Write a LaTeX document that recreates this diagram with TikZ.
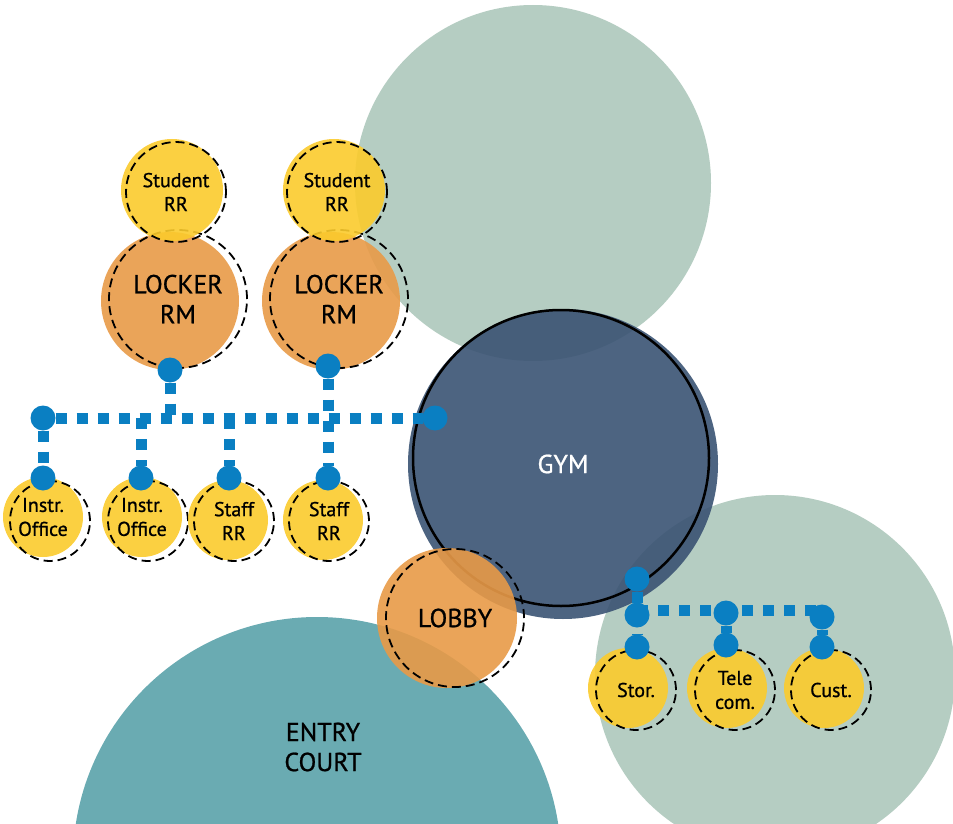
\documentclass[tikz,border=0pt]{standalone}
\usepackage{fontspec}
\setmainfont{PT Sans}[FakeBold=0.8]
\usetikzlibrary{positioning}
\definecolor{sage}{HTML}{B5CDC2}
\definecolor{teal}{HTML}{6AABB2}
\definecolor{navy}{HTML}{3A5373}
\definecolor{amber}{HTML}{E89A47}
\definecolor{sun}{HTML}{FBCB2C}
\definecolor{linkblue}{HTML}{0A7FC2}
\tikzstyle{every node}=[inner sep=0pt, outer sep=0pt, circle]
\tikzstyle{zone}=[fill=sage]
\tikzstyle{room}=[fill opacity=0.9, text opacity=1]
\tikzstyle{ring}=[draw, line width=1.8pt, dash pattern=on 9pt off 5pt, align=center]
\tikzstyle{big}=[font=\fontsize{26}{30}\selectfont]
\tikzstyle{small}=[font=\fontsize{20}{24}\selectfont]
\tikzstyle{dot}=[fill=linkblue, minimum size=25pt]
\tikzstyle{link}=[draw=linkblue, line width=11pt, dash pattern=on 11pt off 10pt]

\begin{document}
\begin{tikzpicture}[x=1pt,y=-1pt]
    \useasboundingbox (0,0) rectangle (953,824);
    \clip (0,0) rectangle (953,824);
    % outdoor zones
    \node[zone, minimum size=356pt] (north) at (533,183) {};
    \node[zone, minimum size=360pt] (east) at (775,675) {};
    \node[fill=teal, minimum size=488pt] (court) at (317,861) {};
    \node[big, rectangle, align=center] (courtlbl) at (323,747) {ENTRY\\COURT};
    % gym
    \node[room, fill=navy, minimum size=310pt, big, text=white] (gym) at (563,464) {GYM};
    \node[draw, line width=2.5pt, minimum size=296pt] (gymring) at (561,458) {};
    % lobby
    \node[room, fill=amber, minimum size=140pt] (lobby) at (447,618) {};
    \node[ring, big, minimum size=138pt] (lobbyring) at (455,618) {LOBBY};
    % locker rooms
    \node[room, fill=amber, minimum size=138pt] (locker1) at (170,301) {};
    \node[ring, big, minimum size=138pt] (locker1ring) at (178,299) {LOCKER\\RM};
    \node[room, fill=amber, minimum size=138pt] (locker2) at (331,301) {};
    \node[ring, big, minimum size=138pt] (locker2ring) at (339,299) {LOCKER\\RM};
    % student restrooms
    \node[room, fill=sun, minimum size=102pt] (student1) at (172,190) {};
    \node[ring, small, minimum size=100pt] (student1ring) at (176,192) {Student\\RR};
    \node[room, fill=sun, minimum size=102pt] (student2) at (334,190) {};
    \node[ring, small, minimum size=100pt] (student2ring) at (337,192) {Student\\RR};
    % staff side
    \node[room, fill=sun, minimum size=80pt, small, align=center] (instr1) at (43,517) {Instr.\\Office};
    \node[ring, minimum size=80pt] (instr1ring) at (50,521) {};
    \node[room, fill=sun, minimum size=80pt, small, align=center] (instr2) at (142,517) {Instr.\\Office};
    \node[ring, minimum size=80pt] (instr2ring) at (148,521) {};
    \node[room, fill=sun, minimum size=80pt] (staff1) at (228,520) {};
    \node[ring, small, minimum size=80pt] (staff1ring) at (234,521) {Staff\\RR};
    \node[room, fill=sun, minimum size=80pt] (staff2) at (323,520) {};
    \node[ring, small, minimum size=80pt] (staff2ring) at (329,521) {Staff\\RR};
    % service side
    \node[room, fill=sun, minimum size=80pt] (stor) at (628,688) {};
    \node[ring, small, minimum size=80pt] (storring) at (636,690) {Stor.};
    \node[room, fill=sun, minimum size=80pt] (tele) at (727,688) {};
    \node[ring, small, minimum size=80pt] (telering) at (735,690) {Tele\\com.};
    \node[room, fill=sun, minimum size=80pt] (cust) at (824,688) {};
    \node[ring, small, minimum size=80pt] (custring) at (831,690) {Cust.};
    % connection dots
    \node[dot] (locker1dot) at (170,370) {};
    \node[dot] (locker2dot) at (328,366) {};
    \node[dot] (westdot) at (43,418) {};
    \node[dot] (gymwest) at (435,418) {};
    \node[dot] (instr1dot) at (43,478) {};
    \node[dot] (instr2dot) at (141,478) {};
    \node[dot] (staff1dot) at (229,478) {};
    \node[dot] (staff2dot) at (328,478) {};
    \node[dot] (gymsouth) at (637,579) {};
    \node[dot] (stordot1) at (637,615) {};
    \node[dot] (stordot2) at (637,647) {};
    \node[dot] (teledot1) at (726,613) {};
    \node[dot] (teledot2) at (726,645) {};
    \node[dot] (custdot1) at (822,617) {};
    \node[dot] (custdot2) at (822,647) {};
    \coordinate (eastjoint) at (637,610);
    % links
    \draw[link] (westdot) -- (gymwest);
    \draw[link] (locker1dot) -- (locker1dot |- westdot);
    \draw[link] (locker2dot) -- (staff2dot);
    \draw[link] (westdot) -- (instr1dot);
    \draw[link] (instr2dot |- westdot) -- (instr2dot);
    \draw[link] (staff1dot |- westdot) -- (staff1dot);
    \draw[link] (gymsouth) -- (stordot2);
    \draw[link] (eastjoint) -- (eastjoint -| custdot1);
    \draw[link] (teledot1) -- (teledot2);
    \draw[link] (custdot1) -- (custdot2);
  \end{tikzpicture}
\end{document}
